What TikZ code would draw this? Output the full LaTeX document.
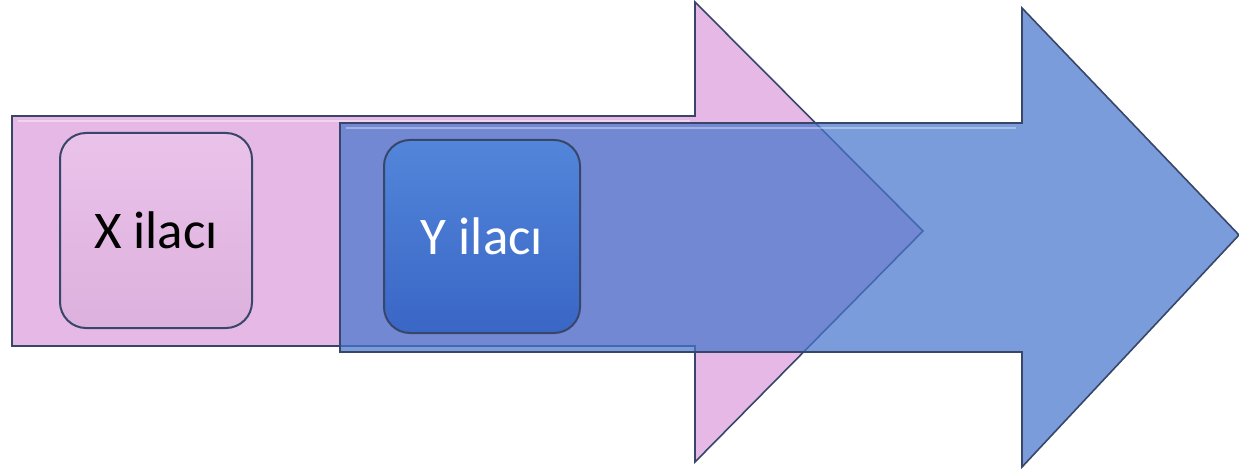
\documentclass[tikz,border=0pt]{standalone}
\usepackage{fontspec}
\setmainfont{Carlito}
\definecolor{pinkfill}{RGB}{230,184,230}
\definecolor{bluefill}{RGB}{70,118,204}
\definecolor{edgecol}{RGB}{55,70,105}
\definecolor{boxtop}{RGB}{82,134,218}
\definecolor{boxbot}{RGB}{58,102,198}
\tikzset{
  arrowshape/.style={draw=edgecol, line width=1.6pt, line join=miter},
  drugbox/.style={draw=edgecol, line width=2pt, rounded corners=26pt},
  shine/.style={white, line width=2.5pt, opacity=0.4},
  label/.style={font=\fontsize{53}{63}\selectfont, inner sep=0pt}
}
\begin{document}
\begin{tikzpicture}[x=1pt, y=-1pt]
  \useasboundingbox (0,0) rectangle (1239,470);

  % first (pink) block arrow
  \path[arrowshape, fill=pinkfill]
    (12,116) -- (695,116) -- (695,2) -- (923,231) -- (695,462)
    -- (695,346) -- (12,346) -- cycle;
  \draw[shine] (18,121) -- (690,121);

  % first drug box
  \node[drugbox, minimum width=192pt, minimum height=195pt,
        top color=pinkfill!85!white, bottom color=pinkfill!96!black]
        (xbox) at (156,230.5) {};
  \node[label, text=black] (xtext) at (xbox.center) {X ilacı};

  % second (blue, translucent) block arrow
  \path[arrowshape, fill=bluefill, fill opacity=0.72]
    (340,123) -- (1022,123) -- (1022,8) -- (1239,235) -- (1022,467)
    -- (1022,352) -- (340,352) -- cycle;
  \draw[shine, opacity=0.35] (346,128) -- (1016,128);

  % second drug box
  \node[drugbox, minimum width=196pt, minimum height=193pt,
        top color=boxtop, bottom color=boxbot]
        (ybox) at (482,236.5) {};
  \node[label, text=white] (ytext) at (ybox.center) {Y ilacı};
\end{tikzpicture}
\end{document}
